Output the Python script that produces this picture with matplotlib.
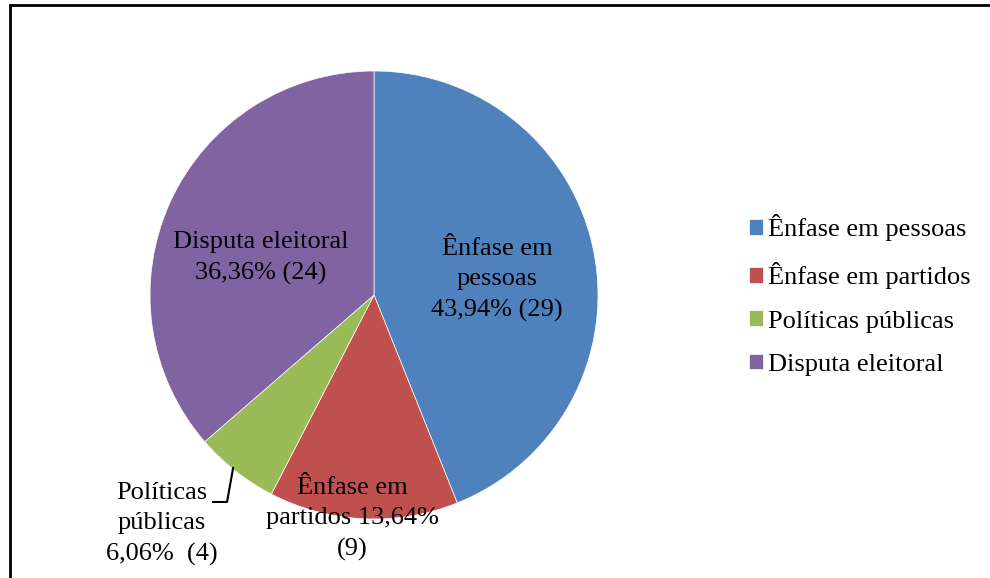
import matplotlib.pyplot as plt
from matplotlib.patches import Rectangle

categories = ['Ênfase em pessoas', 'Ênfase em partidos', 'Políticas públicas', 'Disputa eleitoral']
values = [29, 9, 4, 24]
colors = ['#4F81BD', '#C0504D', '#9BBB59', '#8064A2']

plt.rcParams['font.family'] = ['Liberation Serif', 'DejaVu Serif']

W, H = 990, 578
fig = plt.figure(figsize=(W/100, H/100), dpi=100)

# pie centre / radius in pixels
cx, cy, r = 374, 295, 224
ax = fig.add_axes([(cx-r)/W, (H-cy-r)/H, 2*r/W, 2*r/H])
wedges, _ = ax.pie(values, colors=colors, startangle=90, counterclock=False,
                   wedgeprops=dict(edgecolor='white', linewidth=0.5))
ax.set_xlim(-1, 1)
ax.set_ylim(-1, 1)
ax.set_aspect('equal')

total = sum(values)
def pct(v):
	return ('%.2f%%' % (100*v/total)).replace('.', ',')

fs = 19
ls = 1.5
ax.text(0.549, 0.067, 'Ênfase em\npessoas\n%s (%d)' % (pct(values[0]), values[0]),
		ha='center', va='center', fontsize=fs, linespacing=ls)
ax.text(-0.504, 0.165, 'Disputa eleitoral\n%s (%d)' % (pct(values[3]), values[3]),
		ha='center', va='center', fontsize=fs, linespacing=ls)
ax.text(-0.098, -1.0, 'Ênfase em\npartidos %s\n(%d)' % (pct(values[1]), values[1]),
		ha='center', va='center', fontsize=fs, linespacing=ls, clip_on=False)
ax.text(-0.946, -1.022, 'Políticas\npúblicas\n%s  (%d)' % (pct(values[2]), values[2]),
		ha='center', va='center', fontsize=fs, linespacing=ls, clip_on=False)
ax.plot([-0.629, -0.656, -0.719], [-0.772, -0.924, -0.924], color='black',
		lw=1.5, clip_on=False)

ax.legend(wedges, categories, loc='center left', bbox_to_anchor=(749/W, 1-295/H),
		  bbox_transform=fig.transFigure, frameon=False, fontsize=fs,
		  borderaxespad=0, borderpad=0, handlelength=0.53, handleheight=0.53,
		  handletextpad=0.2, labelspacing=0.8)

# chart border (only top/left visible in crop)
fig.patches.append(Rectangle((10/W, -0.1), 2, (H-5)/H+0.1, transform=fig.transFigure,
							 fill=False, edgecolor='black', lw=2))

fig.savefig('out.png', dpi=100)
